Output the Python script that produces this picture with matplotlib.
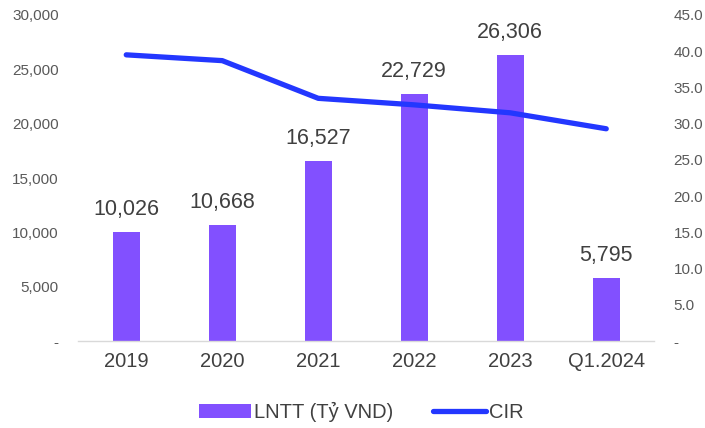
import matplotlib.pyplot as plt
from matplotlib.ticker import FuncFormatter

plt.rcParams['font.family'] = ['Liberation Sans', 'DejaVu Sans']

categories = ['2019', '2020', '2021', '2022', '2023', 'Q1.2024']
lntt = [10026, 10668, 16527, 22729, 26306, 5795]
cir = [39.5, 38.7, 33.5, 32.6, 31.5, 29.3]

bar_color = '#8250FF'
line_color = '#2337FF'
text_color = '#404040'
tick_color = '#595959'


def left_fmt(v, _):
    return '-' if v == 0 else f'{v:,.0f}'


def right_fmt(v, _):
    return '-' if v == 0 else f'{v:.1f}'


def main():
    fig = plt.figure(figsize=(7.05, 4.28), dpi=100)
    ax = fig.add_axes([0.111, 0.203, 0.817, 0.762])
    x = range(len(categories))
    bars = ax.bar(x, lntt, width=0.28, color=bar_color, label='LNTT (Tỷ VND)', zorder=2)
    for xi, v in zip(x, lntt):
        ax.annotate(f'{v:,}', (xi, v), xytext=(0, 9), textcoords='offset points',
                    ha='center', va='bottom', fontsize=15.5, color=text_color)
    ax.set_ylim(0, 30000)
    ax.set_yticks(range(0, 30001, 5000))
    ax.yaxis.set_major_formatter(FuncFormatter(left_fmt))
    ax.set_xlim(-0.5, len(categories) - 0.5)
    ax.set_xticks(list(x))
    ax.set_xticklabels(categories, fontsize=14.5, color=text_color)

    ax2 = ax.twinx()
    line, = ax2.plot(list(x), cir, color=line_color, lw=3.8, solid_capstyle='round',
                     label='CIR', zorder=3)
    ax2.set_ylim(0, 45)
    ax2.set_yticks(range(0, 46, 5))
    ax2.yaxis.set_major_formatter(FuncFormatter(right_fmt))

    for a in (ax, ax2):
        for s in a.spines.values():
            s.set_visible(False)
        a.tick_params(axis='y', length=0, labelsize=11, labelcolor=tick_color, pad=14)
    ax.tick_params(axis='x', length=0, pad=8)
    ax.spines['bottom'].set_visible(True)
    ax.spines['bottom'].set_color('#d9d9d9')
    ax.spines['bottom'].set_linewidth(1)

    fig.legend([bars, line], ['LNTT (Tỷ VND)', 'CIR'], loc='center',
               bbox_to_anchor=(0.512, 0.037), ncol=2, frameon=False, fontsize=14.5,
               labelcolor=text_color, handlelength=2.6, handletextpad=0.15,
               columnspacing=2.0)
    fig.savefig('out.png', dpi=100)


if __name__ == "__main__":
    main()
